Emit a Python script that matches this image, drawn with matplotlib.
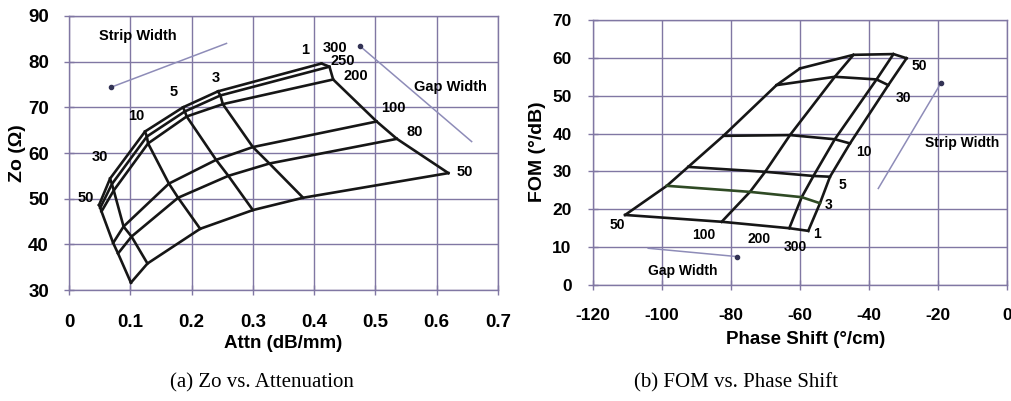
import matplotlib.pyplot as plt
import numpy as np

plt.rcParams['font.family'] = ['Liberation Sans', 'DejaVu Sans']
plt.rcParams['axes.unicode_minus'] = False

# ---- (a) Zo vs. attenuation ----
strip_widths = [1, 3, 5, 10, 30, 50]
gaps_a = [300, 250, 200, 100, 80, 50]

# rows follow gaps_a, columns follow strip_widths
attn = np.array([
    [0.412, 0.243, 0.186, 0.124, 0.067, 0.049],
    [0.425, 0.247, 0.189, 0.127, 0.070, 0.051],
    [0.431, 0.251, 0.192, 0.129, 0.073, 0.053],
    [0.502, 0.300, 0.240, 0.163, 0.089, 0.072],
    [0.535, 0.327, 0.260, 0.178, 0.102, 0.080],
    [0.619, 0.382, 0.300, 0.214, 0.128, 0.101],
])
zo = np.array([
    [79.6, 73.5, 70.0, 64.7, 54.4, 48.6],
    [78.9, 72.6, 69.1, 63.6, 53.2, 48.0],
    [76.1, 70.7, 68.0, 62.1, 51.8, 47.2],
    [66.9, 61.3, 58.5, 53.3, 43.9, 40.3],
    [63.1, 57.7, 55.0, 50.2, 41.7, 38.0],
    [55.6, 50.2, 47.5, 43.4, 35.8, 31.6],
])

# ---- (b) FOM vs. phase shift ----
gaps_b = [50, 100, 200, 300]
phase = np.array([
    [-110.7, -98.6, -92.4, -82.2, -66.8, -60.0],
    [-82.7, -74.5, -70.1, -62.9, -49.9, -44.5],
    [-63.1, -59.5, -56.1, -49.9, -37.8, -32.9],
    [-57.6, -54.2, -51.3, -45.5, -34.4, -29.1],
])
fom = np.array([
    [18.5, 26.2, 31.2, 39.4, 52.8, 57.2],
    [16.7, 24.6, 29.9, 39.6, 55.0, 60.8],
    [15.0, 23.2, 28.8, 38.5, 54.3, 61.0],
    [14.3, 21.6, 28.6, 37.4, 52.8, 59.9],
])

grid_c = '#8077a3'
line_c = '#161616'
arrow_c = '#8e8cb8'

fig = plt.figure(figsize=(10.12, 4.01), dpi=100)
axa = fig.add_axes([0.0682, 0.2768, 0.4239, 0.6833])
axb = fig.add_axes([0.586, 0.2893, 0.409, 0.6608])


def style(ax, fs, xpad, ypad):
    ax.grid(True, color=grid_c, lw=1.0)
    ax.set_axisbelow(True)
    for s in ax.spines.values():
        s.set_color(grid_c)
        s.set_linewidth(1.0)
    ax.tick_params(direction='inout', length=7, color=grid_c, width=1,
                   labelsize=fs)
    ax.tick_params(axis='x', pad=xpad)
    ax.tick_params(axis='y', pad=ypad)
    for t in ax.get_xticklabels() + ax.get_yticklabels():
        t.set_fontweight('bold')


# mesh (a)
for i in range(len(gaps_a)):
    axa.plot(attn[i], zo[i], color=line_c, lw=1.9)
for j in range(len(strip_widths)):
    axa.plot(attn[:, j], zo[:, j], color=line_c, lw=1.9)

axa.set_xlim(0, 0.7)
axa.set_ylim(30, 90)
axa.set_xticks(np.arange(0, 0.71, 0.1))
axa.set_xticklabels(['0', '0.1', '0.2', '0.3', '0.4', '0.5', '0.6', '0.7'])
axa.set_yticks(np.arange(30, 91, 10))
style(axa, 13.5, 14, 11)

lab = dict(fontsize=10.5, fontweight='bold', ha='center', va='center')
strip_pos_a = [(0.385, 82.6), (0.24, 76.4), (0.17, 73.4), (0.11, 68.0),
               (0.05, 59.2), (0.028, 50.2)]
for s, (x, y) in zip(strip_widths, strip_pos_a):
    axa.text(x, y, str(s), **lab)
gap_pos_a = [(0.434, 83.1), (0.447, 80.2), (0.468, 76.9), (0.529, 69.9),
             (0.564, 64.6), (0.646, 55.9)]
for g, (x, y) in zip(gaps_a, gap_pos_a):
    axa.text(x, y, str(g), **lab)
axa.text(0.113, 85.6, 'Strip Width', **lab)
axa.text(0.622, 74.5, 'Gap Width', **lab)
axa.plot([0.0685, 0.257], [74.4, 84.0], color=arrow_c, lw=1.1)
axa.plot([0.0685], [74.4], 'o', color='#333355', ms=3)
axa.plot([0.474, 0.657], [83.5, 62.5], color=arrow_c, lw=1.1)
axa.plot([0.474], [83.5], 'o', color='#333355', ms=3)

# mesh (b)
for i in range(len(gaps_b)):
    axb.plot(phase[i], fom[i], color=line_c, lw=1.9)
for j in range(len(strip_widths)):
    c = '#2f4a24' if strip_widths[j] == 3 else line_c
    axb.plot(phase[:, j], fom[:, j], color=c, lw=1.9)

axb.set_xlim(-120, 0)
axb.set_ylim(0, 70)
axb.set_xticks(np.arange(-120, 1, 20))
axb.set_yticks(np.arange(0, 71, 10))
style(axb, 12.5, 13, 12)

labb = dict(fontsize=10, fontweight='bold', ha='center', va='center')
strip_pos_b = [(-55.0, 13.4), (-51.8, 21.1), (-47.6, 26.4), (-41.4, 35.2),
               (-30.1, 49.5), (-25.5, 57.9)]
for s, (x, y) in zip(strip_widths, strip_pos_b):
    axb.text(x, y, str(s), **labb)
gap_pos_b = [(-113.1, 15.8), (-88.0, 13.2), (-71.8, 12.1), (-61.4, 10.0)]
for g, (x, y) in zip(gaps_b, gap_pos_b):
    axb.text(x, y, str(g), **labb)
axb.text(-13.1, 37.6, 'Strip Width', **labb)
axb.text(-94.0, 3.8, 'Gap Width', **labb)
axb.plot([-37.3, -19.1], [25.5, 53.4], color=arrow_c, lw=1.1)
axb.plot([-19.1], [53.4], 'o', color='#333355', ms=3)
axb.plot([-104.0, -78.2], [9.7, 7.5], color=arrow_c, lw=1.1)
axb.plot([-78.2], [7.5], 'o', color='#333355', ms=3)

# axis titles
fig.text(283 / 1012, 1 - 344 / 401, 'Attn (dB/mm)', fontsize=13.5,
         fontweight='bold', ha='center', va='center')
fig.text(18 / 1012, 1 - 153 / 401, 'Zo (\u03a9)', fontsize=14,
         fontweight='bold', ha='center', va='center', rotation=90)
fig.text(806 / 1012, 1 - 339 / 401, 'Phase Shift (\u00b0/cm)', fontsize=13.5,
         fontweight='bold', ha='center', va='center')
fig.text(538 / 1012, 1 - 152 / 401, 'FOM (\u00b0/dB)', fontsize=14,
         fontweight='bold', ha='center', va='center', rotation=90)

# captions
fig.text(262 / 1012, 1 - 383 / 401, '(a) Zo vs. Attenuation',
         family='Liberation Serif', fontsize=15, ha='center', va='center')
fig.text(736 / 1012, 1 - 383 / 401, '(b) FOM vs. Phase Shift',
         family='Liberation Serif', fontsize=15, ha='center', va='center')

fig.savefig('out.png', dpi=100, facecolor='white')
